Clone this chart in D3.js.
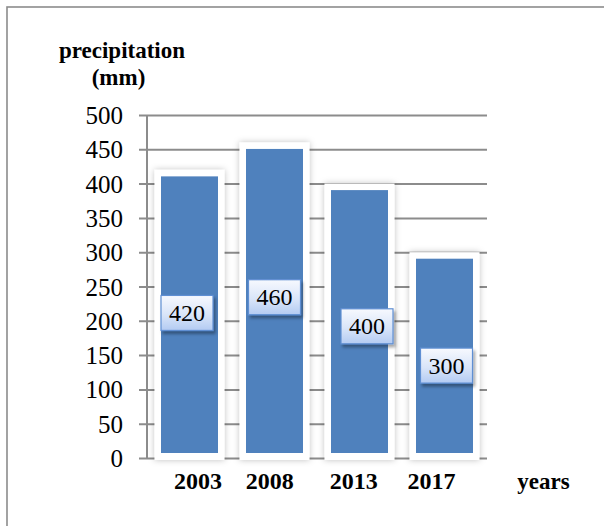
<!DOCTYPE html>
<html>
<head>
<meta charset="utf-8">
<script src="https://cdn.jsdelivr.net/npm/d3@7"></script>
<style>
  html, body { margin: 0; padding: 0; background: #fff; }
  svg { display: block; }
  .serif { font-family: "Liberation Serif", "Times New Roman", Tinos, serif; }
</style>
</head>
<body>
<script>
// ---- data ----
const categories = ["2003", "2008", "2013", "2017"];
const values = [420, 460, 400, 300];
const yTicks = [0, 50, 100, 150, 200, 250, 300, 350, 400, 450, 500];
const yTitleLines = ["precipitation", "(mm)"];
const xTitle = "years";

// ---- layout constants ----
const W = 604, H = 526;
const plot = { left: 147, right: 487, top: 115, bottom: 458 };
const labelNudgeX = [-2.5, 0, 7.5, 2];
const labelNudgeY = [-1, -3, 5.5, 10.5];
const catNudgeX = [8.5, -4.8, -5.8, -13.1];

const svg = d3.select("body").append("svg").attr("width", W).attr("height", H);
const defs = svg.append("defs");

const glow = defs.append("filter").attr("id", "glow")
  .attr("x", "-30%").attr("y", "-30%").attr("width", "160%").attr("height", "160%");
glow.append("feDropShadow").attr("dx", 0).attr("dy", 0).attr("stdDeviation", 3)
  .attr("flood-color", "#000").attr("flood-opacity", 0.25);

const lshadow = defs.append("filter").attr("id", "lshadow")
  .attr("x", "-30%").attr("y", "-30%").attr("width", "170%").attr("height", "170%");
lshadow.append("feDropShadow").attr("dx", 2).attr("dy", 3).attr("stdDeviation", 1.8)
  .attr("flood-color", "#000").attr("flood-opacity", 0.35);

const grad = defs.append("linearGradient").attr("id", "lgrad")
  .attr("x1", 0).attr("y1", 0).attr("x2", 0).attr("y2", 1);
grad.append("stop").attr("offset", "0%").attr("stop-color", "#f7f9fe");
grad.append("stop").attr("offset", "55%").attr("stop-color", "#d9e5f9");
grad.append("stop").attr("offset", "100%").attr("stop-color", "#b3cbf2");

// outer border
svg.append("rect").attr("x", 7).attr("y", 7).attr("width", 800).attr("height", 800)
  .attr("fill", "none").attr("stroke", "#8c8c8c").attr("stroke-width", 1.6);

const x = d3.scaleBand().domain(categories).range([plot.left, plot.right])
  .paddingInner(15 / 85).paddingOuter(7.5 / 85);
const y = d3.scaleLinear().domain([0, 500]).range([plot.bottom, plot.top]);

// gridlines + tick labels
const yAxis = d3.axisLeft(y).tickValues(yTicks).tickSize(0).tickFormat(d => d);
const gy = svg.append("g").attr("transform", `translate(${plot.left - 8},0)`).call(yAxis);
gy.attr("font-family", null).attr("font-size", null);
gy.select(".domain").remove();
gy.selectAll(".tick line").attr("stroke", "#8c8c8c").attr("stroke-width", 2)
  .attr("x1", 0).attr("x2", plot.right - plot.left + 8);
gy.selectAll(".tick text")
  .attr("class", "serif")
  .attr("font-size", 25).attr("fill", "#000")
  .attr("x", -16).attr("dy", "0.34em");

// y axis line
svg.append("line").attr("x1", plot.left).attr("x2", plot.left)
  .attr("y1", y(500)).attr("y2", y(0) + 1)
  .attr("stroke", "#8c8c8c").attr("stroke-width", 2);

// bars
const bars = svg.append("g").selectAll("g").data(categories).enter().append("g");
bars.append("rect")
  .attr("x", c => x(c)).attr("width", x.bandwidth())
  .attr("y", (c, i) => y(values[i]))
  .attr("height", (c, i) => y(0) - y(values[i]) + 2)
  .attr("fill", "#fff").attr("filter", "url(#glow)");
bars.append("rect")
  .attr("x", c => x(c) + 6.5).attr("width", x.bandwidth() - 13)
  .attr("y", (c, i) => y(values[i]) + 6.5)
  .attr("height", (c, i) => y(0) - y(values[i]) - 11.5)
  .attr("fill", "#4f81bd");

// data labels
const lbl = svg.append("g").selectAll("g").data(categories).enter().append("g")
  .attr("transform", (c, i) => `translate(${x(c) + x.bandwidth() / 2 + labelNudgeX[i]},${y(values[i] / 2) + labelNudgeY[i]})`);
lbl.append("rect").attr("x", -26).attr("y", -17.5).attr("width", 52).attr("height", 35)
  .attr("fill", "url(#lgrad)").attr("stroke", "#5f8fd3").attr("stroke-width", 1.2)
  .attr("filter", "url(#lshadow)");
lbl.append("text").attr("class", "serif").attr("text-anchor", "middle").attr("dy", "0.34em")
  .attr("font-size", 24).attr("fill", "#000")
  .text((c, i) => values[i]);

// category labels
svg.append("g").selectAll("text").data(categories).enter().append("text")
  .attr("class", "serif")
  .attr("x", (c, i) => x(c) + x.bandwidth() / 2 + catNudgeX[i])
  .attr("y", 489)
  .attr("text-anchor", "middle")
  .attr("font-weight", "bold").attr("font-size", 24).attr("fill", "#000")
  .text(c => c);

// axis titles
svg.append("text").attr("class", "serif").attr("x", 543.5).attr("y", 489).attr("text-anchor", "middle")
  .attr("font-weight", "bold").attr("font-size", 23).attr("fill", "#000")
  .text(xTitle);

svg.append("text").attr("class", "serif").attr("text-anchor", "middle")
  .attr("font-weight", "bold").attr("font-size", 23).attr("fill", "#000")
  .selectAll("tspan").data(yTitleLines).enter().append("tspan")
  .attr("x", (d, i) => i === 0 ? 122 : 118.5)
  .attr("y", (d, i) => i === 0 ? 58 : 85)
  .text(d => d);
</script>
</body>
</html>
